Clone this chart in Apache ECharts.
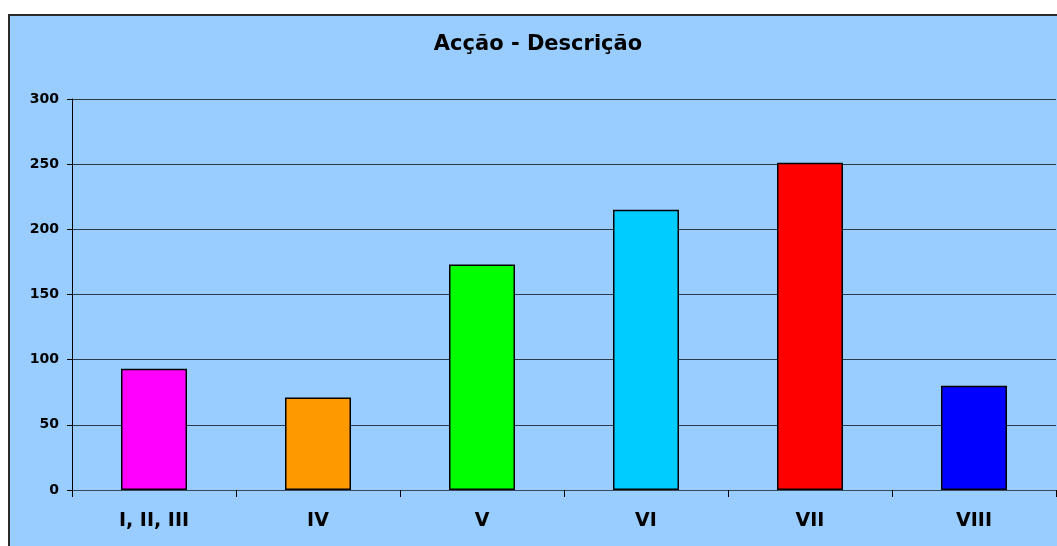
<!DOCTYPE html>
<html>
<head>
<meta charset="utf-8">
<script src="https://cdn.jsdelivr.net/npm/echarts@6/dist/echarts.min.js"></script>
<style>
  html, body { margin: 0; padding: 0; background: #fff; overflow: hidden; width: 1057px; height: 546px; }
  #box {
    position: absolute; left: 8px; top: 14px;
    width: 1056px; height: 560px;
    border-left: 2px solid #2a2a2a; border-top: 2px solid #2a2a2a;
    background: #99CCFF;
  }
  #chart { width: 1056px; height: 560px; }
</style>
</head>
<body>
<div id="box"><div id="chart"></div></div>
<script>
// 数据
var categories = ['I, II, III', 'IV', 'V', 'VI', 'VII', 'VIII'];
var values = [93, 71, 173, 215, 251, 80];
var barColors = ['#FF00FF', '#FF9900', '#00FF00', '#00CCFF', '#FF0000', '#0000FF'];
var yTicks = [0, 50, 100, 150, 200, 250, 300];

var chart = echarts.init(document.getElementById('chart'));

var fontFamily = '"DejaVu Sans", Arial, sans-serif';

var option = {
  backgroundColor: 'transparent',
  animation: false,
  title: {
    text: 'Acção - Descrição',
    left: 'center',
    top: 13,
    textStyle: { fontFamily: fontFamily, fontWeight: 'bold', fontSize: 21, color: '#000' }
  },
  grid: { left: 62, top: 83, width: 984, height: 391 },
  xAxis: {
    type: 'category',
    data: categories,
    axisLine: { lineStyle: { color: '#3a4a5a', width: 1 } },
    axisTick: { show: true, length: 7, inside: false, lineStyle: { color: '#000' } },
    axisLabel: {
      margin: 22,
      fontFamily: fontFamily, fontWeight: 'bold', fontSize: 19, color: '#000'
    }
  },
  yAxis: {
    type: 'value',
    min: yTicks[0],
    max: yTicks[yTicks.length - 1],
    interval: 50,
    axisLine: { show: true, lineStyle: { color: '#000', width: 1 } },
    axisTick: { show: true, length: 5, lineStyle: { color: '#000' } },
    axisLabel: {
      margin: 13,
      fontFamily: fontFamily, fontWeight: 'bold', fontSize: 14, color: '#000'
    },
    splitLine: { show: true, lineStyle: { color: '#2a3a4a', width: 1 } }
  },
  series: [{
    type: 'bar',
    barWidth: 66,
    data: values.map(function (v, i) {
      return { value: v, itemStyle: { color: barColors[i] } };
    }),
    itemStyle: { borderColor: '#000', borderWidth: 1.5 }
  }]
};

chart.setOption(option);
</script>
</body>
</html>
